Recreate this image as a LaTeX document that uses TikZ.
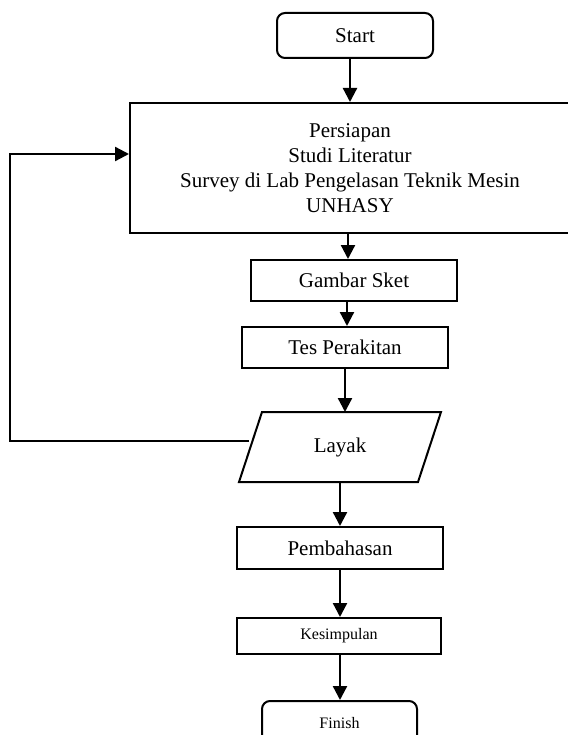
\documentclass[tikz,border=0pt]{standalone}
\usepackage{fontspec}
\setmainfont{Liberation Serif}
\usetikzlibrary{arrows.meta}
\begin{document}
\begin{tikzpicture}[x=1pt,y=-1pt,
  box/.style={draw,line width=2pt,inner sep=0pt,align=center,
    font=\fontsize{21}{25}\selectfont},
  smallbox/.style={box,font=\fontsize{16}{19}\selectfont},
  term/.style={rounded corners=8pt},
  arr/.style={line width=2.3pt,-{Triangle[length=14pt,width=14pt]}},
]
\useasboundingbox (0,0) rectangle (567,735);

% process steps
\node[box,term,minimum width=156pt,minimum height=45pt] (start) at (355,35.5) {Start};
\node[box,minimum width=440pt,minimum height=130pt] (prep) at (350,168)
  {Persiapan\\Studi Literatur\\Survey di Lab Pengelasan Teknik Mesin\\UNHASY};
\node[box,minimum width=206pt,minimum height=41pt] (sket) at (354,280.5) {Gambar Sket};
\node[box,minimum width=206pt,minimum height=41pt] (tes) at (345,347.5) {Tes Perakitan};
\node[box,draw=none,minimum width=200pt,minimum height=68pt] (layak) at (340,447) {Layak};
\draw[line width=2pt,line join=miter]
  (layak.south west) -- ([xshift=-23pt]layak.south east) -- (layak.north east)
  -- ([xshift=23pt]layak.north west) -- cycle;
\node[box,minimum width=206pt,minimum height=42pt] (bahas) at (340,548) {Pembahasan};
\node[smallbox,minimum width=204pt,minimum height=36pt] (simpul) at (339,636) {Kesimpulan};
\node[smallbox,term,minimum width=155pt,minimum height=45pt] (finish) at (339.5,723.5) {Finish};

% flow
\coordinate (sketout) at ([xshift=-7pt]sket.south);
\draw[arr] (start.south -| prep.north) -- (prep.north);
\draw[arr] ([xshift=-2pt]prep.south) -- ([xshift=-2pt]prep.south |- sket.north);
\draw[arr] (sketout) -- (sketout |- tes.north);
\draw[arr] (tes.south) -- (tes.south |- layak.north);
\draw[arr] (layak.south) -- (bahas.north);
\draw[arr] (bahas.south) -- (bahas.south |- simpul.north);
\draw[arr] (simpul.south -| bahas.south) -- (finish.north -| bahas.south);

% feedback loop back to the preparation step
\coordinate (loop) at (10,154);
\draw[arr] ([xshift=10pt,yshift=6pt]layak.west) -| (loop) -- (loop -| prep.west);
\end{tikzpicture}
\end{document}
